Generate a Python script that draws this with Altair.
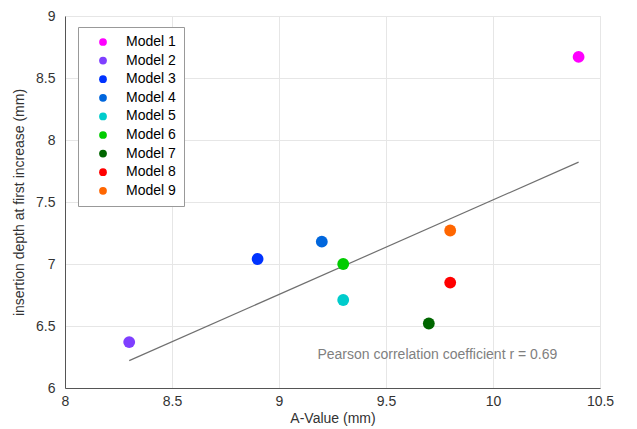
import altair as alt
import pandas as pd

models = ["Model 1", "Model 2", "Model 3", "Model 4", "Model 5",
          "Model 6", "Model 7", "Model 8", "Model 9"]
a_value = [10.4, 8.3, 8.9, 9.2, 9.3, 9.3, 9.7, 9.8, 9.8]
depth = [8.67, 6.37, 7.04, 7.18, 6.71, 7.00, 6.52, 6.85, 7.27]
colors = ["#ff00ff", "#7f3fff", "#0033ff", "#0066dd", "#00cccc",
          "#00cc00", "#006600", "#ff0000", "#ff6600"]
x_ticks = [8, 8.5, 9, 9.5, 10, 10.5]
y_ticks = [6, 6.5, 7, 7.5, 8, 8.5, 9]
note = "Pearson correlation coefficient r = 0.69"
note_x = [9.74]
note_y = [6.27]

df = pd.DataFrame({"model": models, "a": a_value, "d": depth})
note_df = pd.DataFrame({"x": note_x, "y": note_y, "t": [note]})

FONT = "Liberation Sans"

xs = alt.Scale(domain=[8, 10.5], nice=False, zero=False)
ys = alt.Scale(domain=[6, 9], nice=False, zero=False)

xaxis = alt.Axis(title="A-Value (mm)", values=x_ticks, format="~g", grid=True, ticks=False,
                 labelPadding=6, titlePadding=3, domainColor="#555555",
                 labelColor="#333333", titleColor="#333333",
                 labelFontSize=14, titleFontSize=14, titleFontWeight="normal",
                 gridColor="#e6e6e6", labelFont=FONT, titleFont=FONT,
                 labelFlush=False)
yaxis = alt.Axis(title="insertion depth at first increase (mm)", values=y_ticks,
                 format="~g", grid=True, ticks=False, labelPadding=10, titlePadding=9,
                 domainColor="#555555", labelColor="#333333", titleColor="#333333",
                 labelFontSize=14, titleFontSize=14, titleFontWeight="normal",
                 gridColor="#e6e6e6", labelFont=FONT, titleFont=FONT,
                 labelFlush=False)

line = alt.Chart(df).transform_regression("a", "d").mark_line(
    color="#707070", strokeWidth=1.2
).encode(x=alt.X("a:Q", scale=xs, axis=xaxis), y=alt.Y("d:Q", scale=ys, axis=yaxis))

points = alt.Chart(df).mark_circle(size=140, opacity=1).encode(
    x=alt.X("a:Q", scale=xs, axis=xaxis),
    y=alt.Y("d:Q", scale=ys, axis=yaxis),
    color=alt.Color("model:N", scale=alt.Scale(domain=models, range=colors),
                    legend=alt.Legend(title=None, orient="none", legendX=13, legendY=11,
                                      symbolType="circle", symbolSize=60,
                                      labelFontSize=14, labelFont=FONT,
                                      labelColor="#000000", rowPadding=4.6,
                                      symbolOffset=10, labelOffset=16,
                                      padding=8, strokeColor="#999999",
                                      fillColor="#ffffff", labelLimit=200,
                                      symbolStrokeWidth=0)),
)

text = alt.Chart(note_df).mark_text(
    fontSize=14, font=FONT, color="#7f7f7f", align="center", baseline="middle"
).encode(x=alt.X("x:Q", scale=xs), y=alt.Y("y:Q", scale=ys), text="t:N")

chart = alt.layer(line, points, text).properties(
    width=535, height=372,
    autosize=alt.AutoSizeParams(type="none"),
    padding={"left": 65, "top": 16, "right": 37, "bottom": 41},
).configure_view(stroke=None).configure(background="#ffffff")

chart.save("out.html", embed_options={"renderer": "svg", "actions": False})
